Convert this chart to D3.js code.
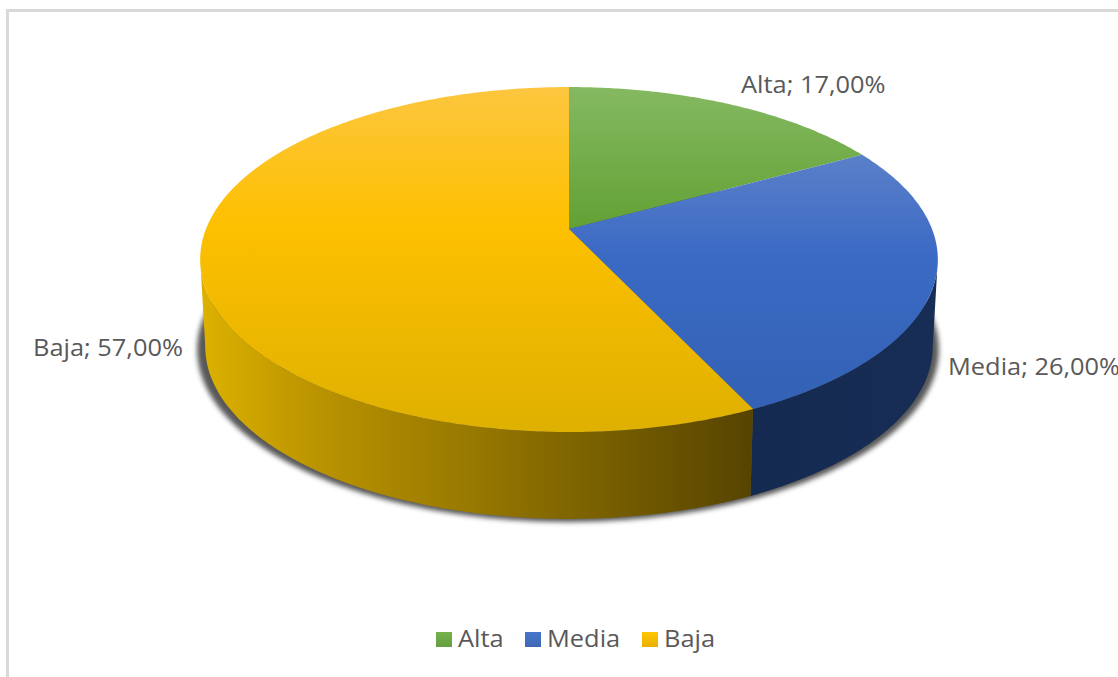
<!DOCTYPE html>
<html>
<head>
<meta charset="utf-8">
<style>
  html, body { margin: 0; padding: 0; background: #fff; overflow: hidden; }
  svg { display: block; }
  text { font-family: "Open Sans", "Noto Sans", sans-serif; fill: #595959; }
</style>
<script src="https://cdn.jsdelivr.net/npm/d3@7/dist/d3.min.js"></script>
</head>
<body>
<svg id="chart" width="1118" height="677"></svg>
<script>
// Share of each level, in percent
const categories = ["Alta", "Media", "Baja"];
const shares = [17, 26, 57];

const width = 1118, height = 677;
const svg = d3.select("#chart");
const defs = svg.append("defs");

// Perspective disc: unit circle (u, v), v grows toward the viewer
const tilt = 0.177;
const topDisc = { x0: 569, y0: 229, a: 363, b: 167.1 };
const baseDisc = { x0: 569, y0: 316, a: 358, b: 167 };
const shadowDisc = { x0: 568, y0: 319, a: 365, b: 167 };

function project(disc, angle) {
  const u = Math.sin(angle), v = -Math.cos(angle), w = 1 - tilt * v;
  return [disc.x0 + disc.a * u / w, disc.y0 + disc.b * v / w];
}

function rim(disc, start, end) {
  const steps = Math.max(2, Math.ceil((end - start) / 0.01));
  return d3.range(steps + 1).map(i => project(disc, start + (end - start) * i / steps));
}

const line = d3.line();
const arcs = d3.pie().sort(null).value(d => d)(shares);

// Angles where the disc outline turns away from the viewer; walls stop there
const sideAngle = Math.acos(-tilt);
const wallStart = d => Math.max(d.startAngle, sideAngle);
const wallEnd = d => Math.min(d.endAngle, 2 * Math.PI - sideAngle);

// Top-face gradients run vertically, wall gradients horizontally
function gradient(id, x1, y1, x2, y2, stops) {
  const g = defs.append("linearGradient").attr("id", id)
    .attr("gradientUnits", "userSpaceOnUse")
    .attr("x1", x1).attr("y1", y1).attr("x2", x2).attr("y2", y2);
  stops.forEach(([offset, color]) => g.append("stop").attr("offset", offset).attr("stop-color", color));
}

gradient("top-0", 0, 87, 0, 229, [[0, "#85b962"], [1, "#62a134"]]);
gradient("top-1", 0, 153, 0, 409, [[0, "#5b80c9"], [0.4, "#3b6ac4"], [1, "#3361b5"]]);
gradient("top-2", 0, 87, 0, 432, [[0, "#fcc63f"], [0.4, "#fec000"], [1, "#deb000"]]);
gradient("wall-1", 750, 0, 935, 0, [[0, "#152a50"], [1, "#172d55"]]);
gradient("wall-2", 205, 0, 750, 0, [[0, "#dcb000"], [0.2, "#bb9400"], [0.5, "#967700"], [0.7, "#7c6200"], [1, "#574400"]]);

const blur = defs.append("filter").attr("id", "soft")
  .attr("x", "-5%").attr("y", "-5%").attr("width", "110%").attr("height", "110%");
blur.append("feGaussianBlur").attr("stdDeviation", 2.6);

// Frame along the top and left edges
svg.append("rect").attr("x", 6).attr("y", 9).attr("width", width - 6).attr("height", 3).attr("fill", "#d9d9d9");
svg.append("rect").attr("x", 6).attr("y", 9).attr("width", 3).attr("height", height - 9).attr("fill", "#d9d9d9");

// Drop shadow under the base
svg.append("path")
  .attr("d", line(rim(shadowDisc, 0, 2 * Math.PI)) + "Z")
  .attr("fill", "#3a3a3a")
  .attr("opacity", 0.85)
  .attr("filter", "url(#soft)");

// Side walls, painted first so the top face covers the hidden part
svg.append("g").selectAll("path")
  .data(arcs.filter(d => d.index > 0))
  .join("path")
  .attr("d", d => line(rim(topDisc, wallStart(d), wallEnd(d)).concat(rim(baseDisc, wallStart(d), wallEnd(d)).reverse())) + "Z")
  .attr("fill", d => `url(#wall-${d.index})`);

// Top face wedges
svg.append("g").selectAll("path")
  .data(arcs)
  .join("path")
  .attr("d", d => line([[topDisc.x0, topDisc.y0], ...rim(topDisc, d.startAngle, d.endAngle)]) + "Z")
  .attr("fill", d => `url(#top-${d.index})`);

// Text is slightly wider than the face's natural set width
const textStretch = 1.105;

// Data labels
const labelAnchors = [[741, 93], [948, 375], [33, 356]];
svg.append("g").selectAll("text")
  .data(arcs)
  .join("text")
  .attr("transform", d => `translate(${labelAnchors[d.index][0]},${labelAnchors[d.index][1]}) scale(${textStretch},1)`)
  .attr("font-size", 23)
  .text(d => `${categories[d.index]}; ${d.value.toFixed(2).replace(".", ",")}%`);

// Legend
const legendX = [436, 525, 642];
const legendFill = ["#70ad47", "#4472c4", "#ffc000"];
legendFill.forEach((c, i) => {
  gradient(`lg-${i}`, 0, 632, 0, 647, [[0, d3.color(c).brighter(0.1)], [1, d3.color(c).darker(0.25)]]);
});
const legend = svg.append("g").selectAll("g")
  .data(categories)
  .join("g");
legend.append("rect")
  .attr("x", (d, i) => legendX[i]).attr("y", 632)
  .attr("width", 16).attr("height", 15)
  .attr("fill", (d, i) => `url(#lg-${i})`);
legend.append("text")
  .attr("transform", (d, i) => `translate(${legendX[i] + 22},646.5) scale(${textStretch},1)`)
  .attr("font-size", 23)
  .text(d => d);
</script>
</body>
</html>
